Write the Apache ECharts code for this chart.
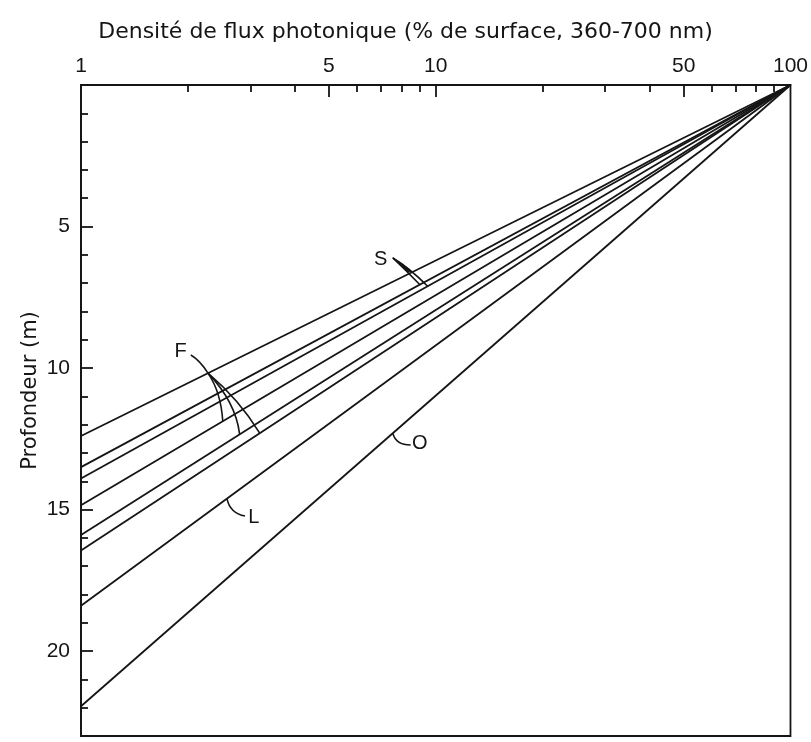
<!DOCTYPE html>
<html><head><meta charset="utf-8">
<script src="https://cdn.jsdelivr.net/npm/echarts@6/dist/echarts.min.js"></script>
<style>html,body{margin:0;background:#fff}#c{width:811px;height:742px}</style>
</head><body><div id="c"></div>
<script>
// Light attenuation lines: each runs from the surface (100 %, 0 m) to 1 % of surface light
const surfacePercent = [100, 1];
const depthAtOnePercent = [12.4, 13.5, 13.9, 14.85, 15.9, 16.45, 18.4, 21.95];

// Axis ticks and labels
const xLabelValues = [1, 5, 10, 50, 100];
const xMajorTicks = [5, 10, 50];
const xMinorTicks = [2, 3, 4, 6, 7, 8, 9, 20, 30, 40, 60, 70, 80, 90];
const yLabelValues = [5, 10, 15, 20];
const yMajorTicks = [0, 5, 10, 15, 20];
const yMinorTicks = [1, 2, 3, 4, 6, 7, 8, 9, 11, 12, 13, 14, 16, 17, 18, 19, 21, 22];
const depthMax = 23;

// Curve labels: text anchor and leader curves [start, control, end] in (%, m)
const labelNames = ['S', 'F', 'L', 'O'];
const labelAnchors = [[7.0, 6.18], [1.91, 9.43], [3.07, 15.27], [9.01, 12.65]];
const labelLeaders = [
  [[[7.57, 6.11], [8.23, 6.54], [9.01, 7.05]],
   [[7.57, 6.11], [8.45, 6.47], [9.49, 7.11]]],
  [[[2.04, 9.54], [2.16, 9.72], [2.28, 10.18]],
   [[2.28, 10.18], [2.48, 10.85], [2.51, 11.88]],
   [[2.28, 10.18], [2.73, 11.2], [2.80, 12.34]],
   [[2.28, 10.18], [2.80, 11.13], [3.19, 12.30]]],
  [[[2.58, 14.62], [2.63, 15.12], [2.90, 15.23]]],
  [[[7.57, 12.30], [7.71, 12.72], [8.5, 12.72]]]
];
// Labels whose forked leader is filled in between its first two branches
const filledFork = [true, false, false, false];

const FONT = '"Liberation Sans", Arial, sans-serif';
const WIDE_FONT = '"DejaVu Sans", "Liberation Sans", sans-serif';
const INK = '#151515';

const chart = echarts.init(document.getElementById('c'), null, { renderer: 'canvas' });

const lineSeries = depthAtOnePercent.map(function (d, i) {
  return {
    name: 'line' + i,
    type: 'line',
    symbol: 'none',
    silent: true,
    lineStyle: { color: INK, width: 1.8 },
    data: [[surfacePercent[0], 0], [surfacePercent[1], d]]
  };
});

// point on a quadratic bezier at parameter t
function quadAt(a, c, b, t) {
  const u = 1 - t;
  return [u * u * a[0] + 2 * u * t * c[0] + t * t * b[0],
          u * u * a[1] + 2 * u * t * c[1] + t * t * b[1]];
}

const labelSeries = {
  type: 'custom',
  coordinateSystem: 'cartesian2d',
  clip: false,
  silent: true,
  encode: { x: 0, y: 1 },
  data: labelAnchors,
  renderItem: function (params, api) {
    const i = params.dataIndex;
    const p = api.coord(labelAnchors[i]);
    const children = [{
      type: 'text', x: p[0], y: p[1],
      style: { text: labelNames[i], fill: INK, fontSize: 20, fontFamily: FONT, align: 'center', verticalAlign: 'middle' }
    }];
    const px = labelLeaders[i].map(function (seg) {
      return seg.map(function (pt) { return api.coord(pt); });
    });
    px.forEach(function (s) {
      children.push({
        type: 'bezierCurve',
        shape: { x1: s[0][0], y1: s[0][1], cpx1: s[1][0], cpy1: s[1][1], x2: s[2][0], y2: s[2][1] },
        style: { stroke: INK, fill: null, lineWidth: 1.6 }
      });
    });
    if (filledFork[i]) {
      const s1 = px[0], s2 = px[1];
      const pts = [s1[0]];
      for (let t = 0.05; t <= 0.55; t += 0.05) pts.push(quadAt(s1[0], s1[1], s1[2], t));
      for (let t = 0.55; t >= 0.05; t -= 0.05) pts.push(quadAt(s2[0], s2[1], s2[2], t));
      children.push({ type: 'polygon', shape: { points: pts }, style: { fill: INK, stroke: INK, lineWidth: 1 } });
    }
    return { type: 'group', children: children };
  }
};

function logAxis(extra) {
  return Object.assign({
    type: 'log', logBase: 10, min: 1, max: 100, position: 'top',
    splitLine: { show: false },
    axisLine: { show: true, lineStyle: { color: INK, width: 1.8 } }
  }, extra);
}
function depthAxis(extra) {
  return Object.assign({
    type: 'value', inverse: true, min: 0, max: depthMax, position: 'left',
    splitLine: { show: false },
    axisLine: { show: true, lineStyle: { color: INK, width: 1.8 } }
  }, extra);
}

chart.setOption({
  backgroundColor: '#fff',
  animation: false,
  title: {
    text: 'Densité de flux photonique (% de surface, 360-700 nm)',
    left: 'center', top: 16,
    textStyle: { fontSize: 22, fontWeight: 'normal', color: INK, fontFamily: WIDE_FONT }
  },
  grid: {
    left: 81, right: 20, top: 85, bottom: 6,
    show: true, borderColor: INK, borderWidth: 1.8, backgroundColor: 'transparent'
  },
  xAxis: [
    logAxis({
      axisTick: { show: true, inside: true, length: 12, customValues: xMajorTicks, lineStyle: { color: INK, width: 1.8 } },
      axisLabel: { show: true, customValues: xLabelValues, margin: 8, fontSize: 21, color: INK, fontFamily: FONT }
    }),
    logAxis({
      axisLine: { show: false },
      axisTick: { show: true, inside: true, length: 7, customValues: xMinorTicks, lineStyle: { color: INK, width: 1.8 } },
      axisLabel: { show: false }
    })
  ],
  yAxis: [
    depthAxis({
      name: 'Profondeur (m)', nameLocation: 'middle', nameGap: 40, nameRotate: 90,
      nameMoveOverlap: false,
      nameTextStyle: { fontSize: 21, color: INK, fontFamily: WIDE_FONT, padding: [0, 0, 0, 40] },
      axisTick: { show: true, inside: true, length: 12, customValues: yMajorTicks, lineStyle: { color: INK, width: 1.8 } },
      axisLabel: { show: true, customValues: yLabelValues, margin: 11, fontSize: 21, color: INK, fontFamily: FONT }
    }),
    depthAxis({
      axisLine: { show: false },
      axisTick: { show: true, inside: true, length: 7, customValues: yMinorTicks, lineStyle: { color: INK, width: 1.8 } },
      axisLabel: { show: false }
    })
  ],
  series: lineSeries.concat([labelSeries])
});
</script></body></html>
